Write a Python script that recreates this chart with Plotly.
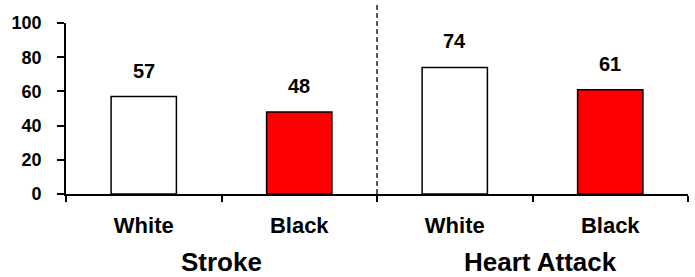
import plotly.graph_objects as go

categories = ["Stroke|White", "Stroke|Black", "Heart Attack|White", "Heart Attack|Black"]
tick_labels = ["White", "Black", "White", "Black"]
values = [57, 48, 74, 61]
bar_colors = ["#FFFFFF", "#FF0000", "#FFFFFF", "#FF0000"]
groups = ["Stroke", "Heart Attack"]
group_centers = [0.5, 2.55]
y_ticks = [0, 20, 40, 60, 80, 100]

FONT = "Liberation Sans, Arial, sans-serif"

fig = go.Figure()
fig.add_trace(go.Bar(
    x=categories, y=values, width=0.42,
    marker=dict(color=bar_colors, line=dict(color="black", width=1.5)),
    hoverinfo="skip",
))

for c, v in zip(categories, values):
    fig.add_annotation(x=c, y=v, xref="x", yref="y", text=str(v), showarrow=False,
                       yanchor="bottom", yshift=13,
                       font=dict(family=FONT, size=20, color="black", weight="bold"))

for g, gx in zip(groups, group_centers):
    fig.add_annotation(x=gx, y=0, xref="x", yref="paper", text=g, showarrow=False,
                       yanchor="middle", yshift=-68,
                       font=dict(family=FONT, size=26, color="black", weight="bold"))

fig.add_shape(type="line", x0=1.5, x1=1.5, xref="x", y0=0, y1=1.105, yref="paper",
              line=dict(color="black", width=1.3, dash="5px,3px"))

fig.update_layout(
    width=695, height=277,
    margin=dict(l=66, r=7, t=23, b=83),
    plot_bgcolor="white", paper_bgcolor="white",
    showlegend=False,
)
fig.update_xaxes(
    type="category", range=[-0.5, 3.5], automargin=False,
    tickmode="array", tickvals=categories, ticktext=tick_labels,
    tickson="boundaries", ticks="outside", ticklen=6, tickwidth=1.5, tickcolor="black",
    showline=True, linecolor="black", linewidth=1.6,
    showgrid=False, zeroline=False, ticklabelstandoff=11,
    tickfont=dict(family=FONT, size=22, color="black", weight="bold"),
)
fig.update_yaxes(
    range=[0, 100], tickvals=y_ticks, automargin=False,
    ticks="outside", ticklen=7, tickwidth=1.5, tickcolor="black",
    showline=True, linecolor="black", linewidth=1.6,
    showgrid=False, zeroline=False, ticklabelstandoff=12,
    tickfont=dict(family=FONT, size=18, color="black", weight="bold"),
)

fig.write_html("out.html", config={"displayModeBar": False},
               post_script="document.body.style.margin='0';document.body.style.overflow='hidden';")
